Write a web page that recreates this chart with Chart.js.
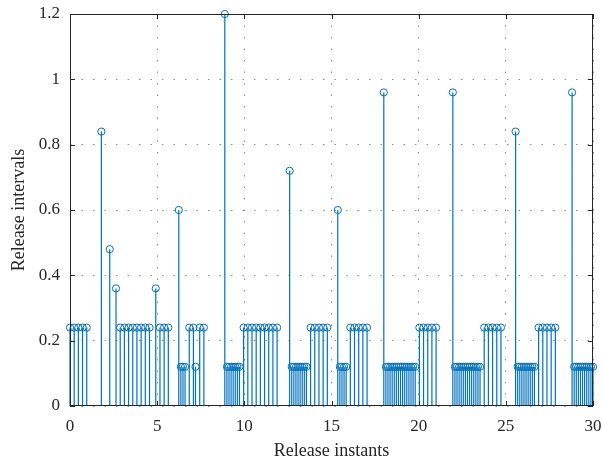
<!DOCTYPE html>
<html lang="en">
<head>
    <meta charset="UTF-8">
    <title>Release intervals</title>
    <script src="https://cdn.jsdelivr.net/npm/chart.js"></script>
    <style>
        html, body { margin: 0; padding: 0; background: #fff; }
        .chart-container { width: 603px; height: 466px; }
    </style>
</head>
<body>
    <div class="chart-container">
        <canvas id="stemChart"></canvas>
    </div>

    <script>
        const releaseInstants = [
            0, 0.24, 0.48, 0.72, 0.96,
            1.80, 2.28, 2.64,
            2.88, 3.12, 3.36, 3.60, 3.84, 4.08, 4.32, 4.56,
            4.92, 5.16, 5.40, 5.64,
            6.24, 6.36, 6.48, 6.60, 6.84, 7.08, 7.20, 7.44, 7.68,
            8.88, 9.00, 9.12, 9.24, 9.36, 9.48, 9.60, 9.72,
            9.96, 10.20, 10.44, 10.68, 10.92, 11.16, 11.40, 11.64, 11.88,
            12.60, 12.72, 12.84, 12.96, 13.08, 13.20, 13.32, 13.44, 13.56,
            13.80, 14.04, 14.28, 14.52, 14.76,
            15.36, 15.48, 15.60, 15.72, 15.84,
            16.08, 16.32, 16.56, 16.80, 17.04,
            18.00, 18.12, 18.24, 18.36, 18.48, 18.60, 18.72, 18.84, 18.96, 19.08, 19.20, 19.32, 19.44, 19.56, 19.68, 19.80,
            20.04, 20.28, 20.52, 20.76, 21.00,
            21.96, 22.08, 22.20, 22.32, 22.44, 22.56, 22.68, 22.80, 22.92, 23.04, 23.16, 23.28, 23.40, 23.52,
            23.76, 24.00, 24.24, 24.48, 24.72,
            25.56, 25.68, 25.80, 25.92, 26.04, 26.16, 26.28, 26.40, 26.52, 26.64,
            26.88, 27.12, 27.36, 27.60, 27.84,
            28.80, 28.92, 29.04, 29.16, 29.28, 29.40, 29.52, 29.64, 29.76, 29.88, 30.00
        ];
        const releaseIntervals = [
            0.24, 0.24, 0.24, 0.24, 0.24,
            0.84, 0.48, 0.36,
            0.24, 0.24, 0.24, 0.24, 0.24, 0.24, 0.24, 0.24,
            0.36, 0.24, 0.24, 0.24,
            0.60, 0.12, 0.12, 0.12, 0.24, 0.24, 0.12, 0.24, 0.24,
            1.20, 0.12, 0.12, 0.12, 0.12, 0.12, 0.12, 0.12,
            0.24, 0.24, 0.24, 0.24, 0.24, 0.24, 0.24, 0.24, 0.24,
            0.72, 0.12, 0.12, 0.12, 0.12, 0.12, 0.12, 0.12, 0.12,
            0.24, 0.24, 0.24, 0.24, 0.24,
            0.60, 0.12, 0.12, 0.12, 0.12,
            0.24, 0.24, 0.24, 0.24, 0.24,
            0.96, 0.12, 0.12, 0.12, 0.12, 0.12, 0.12, 0.12, 0.12, 0.12, 0.12, 0.12, 0.12, 0.12, 0.12, 0.12,
            0.24, 0.24, 0.24, 0.24, 0.24,
            0.96, 0.12, 0.12, 0.12, 0.12, 0.12, 0.12, 0.12, 0.12, 0.12, 0.12, 0.12, 0.12, 0.12,
            0.24, 0.24, 0.24, 0.24, 0.24,
            0.84, 0.12, 0.12, 0.12, 0.12, 0.12, 0.12, 0.12, 0.12, 0.12,
            0.24, 0.24, 0.24, 0.24, 0.24,
            0.96, 0.12, 0.12, 0.12, 0.12, 0.12, 0.12, 0.12, 0.12, 0.12, 0.12
        ];
        const xTicks = [0, 5, 10, 15, 20, 25, 30];
        const yTicks = [0, 0.2, 0.4, 0.6, 0.8, 1, 1.2];

        const stemColor = '#0072BD';
        const axisColor = '#262626';
        const fontFamily = "'Liberation Serif', 'DejaVu Serif', serif";

        // stems: (t,0) -> (t,v), then a gap so the line breaks
        const stemPoints = [];
        releaseInstants.forEach((t, i) => {
            stemPoints.push({ x: t, y: 0 });
            stemPoints.push({ x: t, y: releaseIntervals[i] });
            stemPoints.push({ x: t, y: null });
        });
        const headPoints = releaseInstants.map((t, i) => ({ x: t, y: releaseIntervals[i] }));

        // box round the axes plus inward tick marks, MATLAB style
        const boxPlugin = {
            id: 'boxPlugin',
            afterDatasetsDraw(chart) {
                const { ctx, chartArea: a, scales } = chart;
                ctx.save();
                ctx.strokeStyle = axisColor;
                ctx.lineWidth = 1;
                ctx.strokeRect(a.left + 0.5, a.top + 0.5, a.right - a.left - 1, a.bottom - a.top - 1);
                ctx.beginPath();
                xTicks.forEach(v => {
                    const px = Math.round(scales.x.getPixelForValue(v)) + 0.5;
                    ctx.moveTo(px, a.bottom); ctx.lineTo(px, a.bottom - 5);
                    ctx.moveTo(px, a.top); ctx.lineTo(px, a.top + 5);
                });
                yTicks.forEach(v => {
                    const py = Math.round(scales.y.getPixelForValue(v)) + 0.5;
                    ctx.moveTo(a.left, py); ctx.lineTo(a.left + 5, py);
                    ctx.moveTo(a.right, py); ctx.lineTo(a.right - 5, py);
                });
                ctx.stroke();
                ctx.restore();
            }
        };

        const ctx = document.getElementById('stemChart').getContext('2d');
        new Chart(ctx, {
            type: 'scatter',
            data: {
                datasets: [
                    {
                        data: stemPoints,
                        showLine: true,
                        spanGaps: false,
                        clip: false,
                        borderColor: stemColor,
                        borderWidth: 1.2,
                        pointRadius: 0,
                        pointHoverRadius: 0
                    },
                    {
                        data: headPoints,
                        showLine: false,
                        clip: false,
                        pointStyle: 'circle',
                        pointRadius: 3.6,
                        pointBorderWidth: 1,
                        pointBorderColor: stemColor,
                        pointBackgroundColor: 'rgba(0,0,0,0)'
                    }
                ]
            },
            options: {
                responsive: true,
                maintainAspectRatio: false,
                animation: false,
                layout: { padding: { top: 14, right: 10, left: 0, bottom: 0 } },
                plugins: {
                    legend: { display: false },
                    tooltip: { enabled: false }
                },
                scales: {
                    x: {
                        type: 'linear',
                        min: 0,
                        max: 30,
                        afterBuildTicks: axis => { axis.ticks = xTicks.map(v => ({ value: v })); },
                        afterFit: axis => {
                            axis.height = 60;
                            axis.paddingLeft = 0;
                            axis.paddingRight = 0;
                        },
                        border: { display: false, dash: [1.5, 10] },
                        grid: { color: '#8c8c8c', lineWidth: 1, drawTicks: false },
                        ticks: {
                            color: axisColor,
                            padding: 10,
                            maxRotation: 0,
                            callback: v => String(v),
                            font: { family: fontFamily, size: 17 }
                        },
                        title: {
                            display: true,
                            text: 'Release instants',
                            color: axisColor,
                            padding: { top: 0, bottom: 4 },
                            font: { family: fontFamily, size: 18 }
                        }
                    },
                    y: {
                        min: 0,
                        max: 1.2,
                        afterBuildTicks: axis => { axis.ticks = yTicks.map(v => ({ value: v })); },
                        afterFit: axis => {
                            axis.width = 70;
                            axis.paddingTop = 0;
                            axis.paddingBottom = 0;
                        },
                        border: { display: false, dash: [1.5, 10] },
                        grid: { color: '#8c8c8c', lineWidth: 1, drawTicks: false },
                        ticks: {
                            color: axisColor,
                            padding: 10,
                            callback: v => String(Math.round(v * 10) / 10),
                            font: { family: fontFamily, size: 17 }
                        },
                        title: {
                            display: true,
                            text: 'Release intervals',
                            color: axisColor,
                            padding: { top: 8, bottom: 0 },
                            font: { family: fontFamily, size: 18 }
                        }
                    }
                }
            },
            plugins: [boxPlugin]
        });
    </script>
</body>
</html>
